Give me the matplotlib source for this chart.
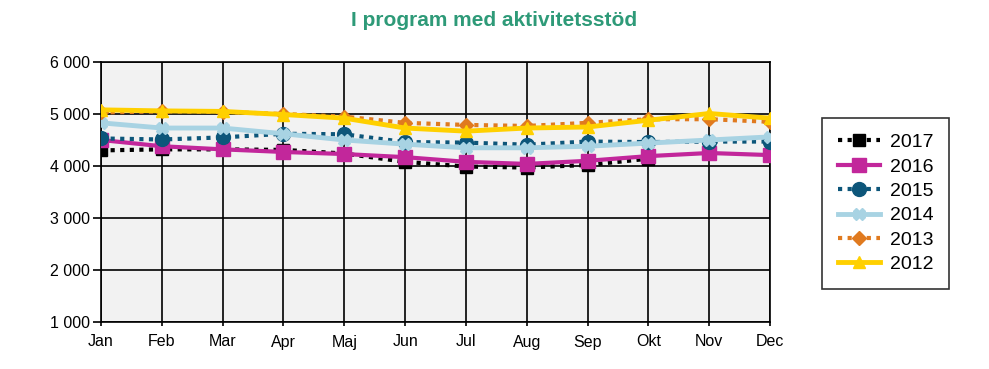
import numpy as np
import matplotlib.pyplot as plt
from matplotlib.ticker import FuncFormatter

months = ["Jan", "Feb", "Mar", "Apr", "Maj", "Jun", "Jul", "Aug", "Sep", "Okt", "Nov", "Dec"]

y2017 = [4300, 4320, 4320, 4310, 4240, 4080, 3990, 3970, 4020, 4140]
y2016 = [4500, 4380, 4320, 4270, 4230, 4170, 4080, 4040, 4100, 4190, 4250, 4210]
y2015 = [4530, 4510, 4550, 4620, 4610, 4460, 4450, 4410, 4470, 4460, 4470, 4470]
y2014 = [4830, 4730, 4730, 4620, 4500, 4420, 4350, 4350, 4380, 4440, 4500, 4560]
y2013 = [5030, 5050, 5040, 5000, 4950, 4830, 4790, 4770, 4830, 4900, 4900, 4850]
y2012 = [5080, 5060, 5050, 4990, 4920, 4730, 4670, 4730, 4750, 4880, 5010, 4920]

plt.rcParams['font.family'] = ['Liberation Sans', 'DejaVu Sans']

fig = plt.figure(figsize=(9.89, 3.69), dpi=100)
ax = fig.add_axes([101/989, 1-322/369, (770-101)/989, (322-62)/369])
ax.set_facecolor("#F2F2F2")

dot = (0, (1, 1.3))
x = np.arange(12)
ax.plot(x[:len(y2017)], y2017, color="black", lw=3, ls=dot, marker="s", ms=9, label="2017", zorder=3)
ax.plot(x, y2016, color="#C2279B", lw=3, marker="s", ms=10, label="2016", zorder=4)
ax.plot(x, y2015, color="#0D567A", lw=3, ls=dot, marker="o", ms=10, label="2015", zorder=5)
ax.plot(x, y2014, color="#A8D3E3", lw=3.5, marker="X", ms=9, mec="#A8D3E3", label="2014", zorder=6)
ax.plot(x, y2013, color="#E07A1F", lw=3, ls=dot, marker="D", ms=7, label="2013", zorder=7)
ax.plot(x, y2012, color="#FFD000", lw=3.5, marker="^", ms=9, label="2012", zorder=8)

ax.set_xlim(0, 11)
ax.set_ylim(1000, 6000)
ax.set_xticks(x)
ax.set_xticklabels(months)
ax.set_yticks(range(1000, 6001, 1000))
ax.yaxis.set_major_formatter(FuncFormatter(lambda v, p: f"{int(v):,}".replace(",", " ")))
ax.grid(True, color="black", lw=1.2)
ax.set_axisbelow(True)
ax.tick_params(labelsize=11.5, width=1.2, color="black")
ax.tick_params(axis="x", length=3, pad=6)
ax.tick_params(axis="y", length=6, pad=2)
for s in ax.spines.values():
    s.set_color("black")
    s.set_linewidth(1.2)

fig.text(0.5, 1-20/369, "I program med aktivitetsstöd", ha="center", va="center",
         fontsize=15, fontweight="bold", color="#2E9A78")

leg = ax.legend(loc="upper left", bbox_to_anchor=(822/989, 1-118/369), bbox_transform=fig.transFigure,
                fontsize=14, frameon=True, fancybox=False, edgecolor="black", handlelength=2.2,
                handletextpad=0.5, labelspacing=0.35, borderpad=0.8, borderaxespad=0)
leg.get_frame().set_linewidth(1.2)

fig.savefig("out.png", dpi=100)
